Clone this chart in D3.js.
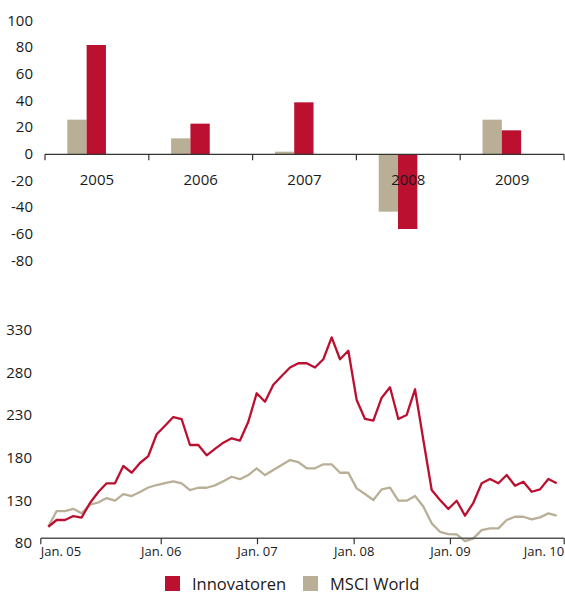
<!DOCTYPE html>
<html>
<head>
<meta charset="utf-8">
<script src="https://cdn.jsdelivr.net/npm/d3@7"></script>
<style>
  html, body { margin: 0; padding: 0; background: #fff; }
  #container { width: 565px; height: 594px; }
  text { font-family: "Open Sans", sans-serif; fill: #1a1a1a; }
</style>
</head>
<body>
<div id="container"></div>
<script>
"use strict";

// Annual returns in percent.
const years = ["2005", "2006", "2007", "2008", "2009"];
const msciReturns = [26, 12, 2, -43, 26];
const innovReturns = [82, 23, 39, -56, 18];
const barTicks = [100, 80, 60, 40, 20, 0, -20, -40, -60, -80];

// Monthly index, start = 100.
const innovIndex = [
  100, 107.9, 107.9, 112.5, 110.8, 127.8, 140.7, 150.9, 150.9, 171.2, 163.3, 174.7,
  182.9, 208.4, 218.3, 228.6, 226, 195.8, 195.8, 183.7, 191.3, 198.5, 203.6, 201,
  223.1, 256.4, 246.5, 266.5, 276.7, 286.6, 291.6, 291.6, 286.6, 296.3, 322, 296.3,
  306.3, 248.5, 226.3, 224.3, 251.2, 263.4, 226.3, 231, 261.1, 201.6, 143, 131.3,
  120.8, 130.5, 112.9, 128.1, 150.9, 155.9, 150.9, 160.6, 148.1, 152.8, 141, 143.8,
  155.9, 150.9
];
const msciIndex = [
  100, 118.4, 118.4, 121, 115.7, 125.9, 128.4, 133.6, 130.5, 138.3, 136, 140.7,
  146, 148.9, 151.2, 153.2, 150.9, 143, 145.7, 145.7, 148.5, 153.3, 158.6, 155.7,
  160.6, 168.5, 160.6, 166.5, 172.3, 178.2, 175.8, 168.5, 168.5, 173.2, 173.2, 163.3,
  163.3, 145, 138.3, 131.3, 143.8, 145.7, 130.5, 130.5, 136, 123.7, 104, 94.1,
  91.4, 91.1, 83.2, 86.4, 96.1, 98.1, 98.1, 107.9, 111.7, 111.7, 108.7, 111, 115.7,
  112.9
];
const lineTicks = [80, 130, 180, 230, 280, 330];
const dateLabels = ["Jan. 05", "Jan. 06", "Jan. 07", "Jan. 08", "Jan. 09", "Jan. 10"];
const dateTickMonths = [-0.9, 13.55, 25.1, 36.7, 48.25, 61.9];

const seriesNames = ["Innovatoren", "MSCI World"];
const red = "#bb1030";
const tan = "#b8af96";
const axisColor = "#333";

const svg = d3.select("#container").append("svg")
  .attr("width", 565).attr("height", 594);

// ---- Bar chart ----
const xBar = d3.scaleBand().domain(years).range([45, 564]);
const bw = xBar.bandwidth();
const xInner = d3.scaleBand().domain(["msci", "innov"]).range([bw * 0.215, bw * 0.587]);
const yBar = d3.scaleLinear().domain([-80, 100]).range([261, 21]);

const barData = years.map((y, i) => ({ year: y, msci: msciReturns[i], innov: innovReturns[i] }));

const groups = svg.append("g").selectAll("g")
  .data(barData).enter().append("g")
  .attr("transform", (d) => `translate(${xBar(d.year)},0)`);

groups.selectAll("rect")
  .data((d) => [{ key: "msci", v: d.msci }, { key: "innov", v: d.innov }])
  .enter().append("rect")
  .attr("x", (d) => xInner(d.key))
  .attr("width", xInner.bandwidth())
  .attr("y", (d) => yBar(Math.max(0, d.v)))
  .attr("height", (d) => Math.abs(yBar(d.v) - yBar(0)))
  .attr("fill", (d) => (d.key === "msci" ? tan : red));

// y labels (no axis line)
svg.append("g").selectAll("text")
  .data(barTicks).enter().append("text")
  .attr("x", 33)
  .attr("y", (d) => yBar(d) - 1.5)
  .attr("text-anchor", "end")
  .attr("dominant-baseline", "central")
  .style("font-size", "15px")
  .text((d) => d);

// zero axis with ticks at band boundaries
const zeroY = yBar(0);
svg.append("line")
  .attr("x1", xBar.range()[0]).attr("x2", xBar.range()[1])
  .attr("y1", zeroY).attr("y2", zeroY)
  .attr("stroke", axisColor).attr("stroke-width", 1.4);
const boundaries = years.map((y) => xBar(y)).concat([xBar.range()[1]]);
svg.append("g").selectAll("line")
  .data(boundaries).enter().append("line")
  .attr("x1", (d) => d).attr("x2", (d) => d)
  .attr("y1", zeroY).attr("y2", zeroY + 6)
  .attr("stroke", axisColor).attr("stroke-width", 1.2);
svg.append("g").selectAll("text")
  .data(years).enter().append("text")
  .attr("x", (d) => xBar(d) + bw / 2)
  .attr("y", zeroY + 25)
  .attr("text-anchor", "middle")
  .attr("dominant-baseline", "central")
  .style("font-size", "15px")
  .text((d) => d);

// ---- Line chart ----
const xLine = d3.scaleLinear().domain([0, innovIndex.length - 1]).range([48.3, 556.7]);
const yLine = d3.scaleLinear().domain([80, 330]).range([543.8, 330.5]);

svg.append("g").selectAll("text")
  .data(lineTicks).enter().append("text")
  .attr("x", 32)
  .attr("y", (d) => yLine(d) - 1.5)
  .attr("text-anchor", "end")
  .attr("dominant-baseline", "central")
  .style("font-size", "15px")
  .text((d) => d);

const line = d3.line().x((d, i) => xLine(i)).y((d) => yLine(d));

svg.append("path")
  .datum(msciIndex)
  .attr("d", line)
  .attr("fill", "none")
  .attr("stroke", tan)
  .attr("stroke-width", 2.3)
  .attr("stroke-linejoin", "round");
svg.append("path")
  .datum(innovIndex)
  .attr("d", line)
  .attr("fill", "none")
  .attr("stroke", red)
  .attr("stroke-width", 2.3)
  .attr("stroke-linejoin", "round");

// x axis sits slightly above the 80 level, as in the original
const baseY = yLine(86.5);
const tickXs = dateTickMonths.map((m) => xLine(m));
svg.append("line")
  .attr("x1", tickXs[0]).attr("x2", tickXs[tickXs.length - 1])
  .attr("y1", baseY).attr("y2", baseY)
  .attr("stroke", "#555").attr("stroke-width", 1.4);
svg.append("g").selectAll("line")
  .data(tickXs).enter().append("line")
  .attr("x1", (d) => d).attr("x2", (d) => d)
  .attr("y1", baseY).attr("y2", baseY + 6)
  .attr("stroke", axisColor).attr("stroke-width", 1.2);
svg.append("g").selectAll("text")
  .data(dateLabels).enter().append("text")
  .attr("x", (d, i) => tickXs[i])
  .attr("y", baseY + 13)
  .attr("text-anchor", (d, i) => (i === 0 ? "start" : i === dateLabels.length - 1 ? "end" : "middle"))
  .attr("dominant-baseline", "central")
  .style("font-size", "13px")
  .text((d) => d);

// ---- Legend ----
const legend = svg.append("g").attr("transform", "translate(165,576)");
const legendX = [0, 138];
const legendColors = [red, tan];
seriesNames.forEach((name, i) => {
  const g = legend.append("g").attr("transform", `translate(${legendX[i]},0)`);
  g.append("rect").attr("width", 15).attr("height", 15).attr("fill", legendColors[i]);
  g.append("text")
    .attr("x", 27).attr("y", 14)
    .style("font-size", "16.5px")
    .text(name);
});
</script>
</body>
</html>
